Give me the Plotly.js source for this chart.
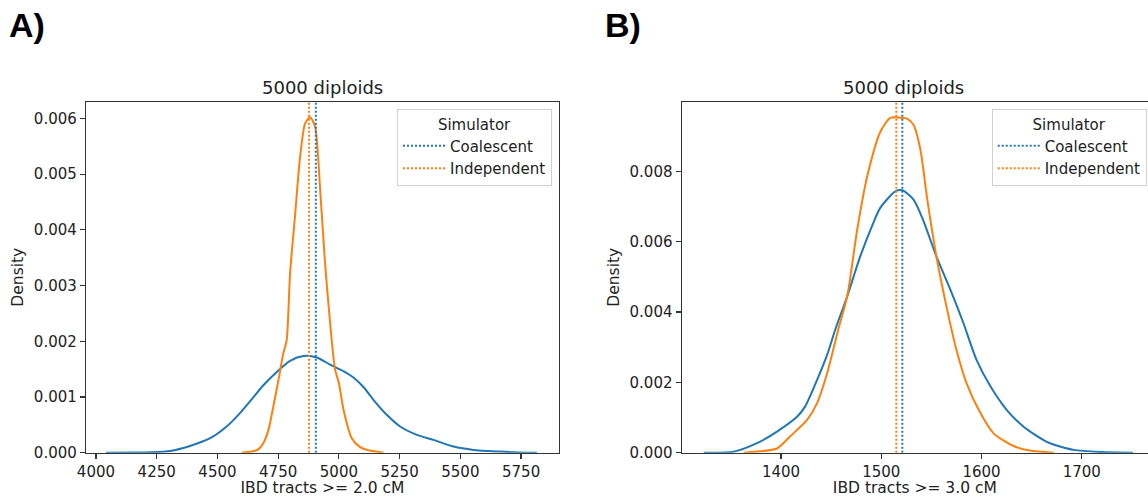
<!DOCTYPE html>
<html>
<head>
<meta charset="utf-8">
<script src="https://cdn.plot.ly/plotly-3.0.1.min.js"></script>
<style>html,body{margin:0;padding:0;background:#fff;}#chart{width:1148px;height:497px;}</style>
</head>
<body>
<div id="chart"></div>
<script>
// ---- Panel A: IBD tracts >= 2.0 cM ----
const aCoalX = [4041, 4150, 4222, 4305, 4387, 4470, 4538, 4593, 4634, 4689, 4744, 4799, 4854, 4909, 4964, 5020, 5060, 5101, 5142, 5197, 5252, 5321, 5389, 5472, 5554, 5664, 5740, 5815];
const aCoalY = [0, 0.000002, 0.000007, 0.00003, 0.00012, 0.00026, 0.00047, 0.00071, 0.00092, 0.00121, 0.00145, 0.00165, 0.001735, 0.00171, 0.00158, 0.00146, 0.00135, 0.00118, 0.00095, 0.00068, 0.00047, 0.00032, 0.00023, 0.00011, 0.00005, 0.00002, 0.000005, 0];
const aIndX = [4600, 4640, 4668, 4689, 4710, 4730, 4751, 4771, 4785, 4799, 4819, 4840, 4861, 4881, 4902, 4923, 4943, 4964, 4984, 5000, 5019, 5053, 5087, 5115, 5183];
const aIndY = [0, 0.00002, 0.00006, 0.00017, 0.00041, 0.00083, 0.0013, 0.00178, 0.00202, 0.00322, 0.00423, 0.0053, 0.00591, 0.00602, 0.00585, 0.00471, 0.0034, 0.00232, 0.0015, 0.00125, 0.00077, 0.00026, 0.0001, 0.00005, 0];
const aCoalMean = 4905;
const aIndMean = 4877;

// ---- Panel B: IBD tracts >= 3.0 cM ----
const bCoalX = [1323, 1353, 1376, 1396, 1416, 1424, 1436, 1446, 1454, 1466, 1479, 1492, 1499, 1514, 1521, 1532, 1541, 1555, 1569, 1582, 1595, 1609, 1625, 1642, 1665, 1692, 1720, 1751];
const bCoalY = [0, 0.00003, 0.00027, 0.0006, 0.00102, 0.00131, 0.00207, 0.00278, 0.00349, 0.00444, 0.00558, 0.00653, 0.00696, 0.00743, 0.00746, 0.0072, 0.00667, 0.00558, 0.00463, 0.00368, 0.00264, 0.00188, 0.00122, 0.00074, 0.00031, 0.00008, 0.00002, 0];
const bIndX = [1363, 1379, 1396, 1409, 1426, 1436, 1446, 1457, 1466, 1476, 1486, 1499, 1509, 1517, 1526, 1532, 1539, 1545, 1549, 1555, 1565, 1575, 1585, 1599, 1612, 1632, 1648, 1672];
const bIndY = [0, 0.00004, 0.00012, 0.00046, 0.00093, 0.00141, 0.00226, 0.00349, 0.00444, 0.00634, 0.00786, 0.00912, 0.00952, 0.00953, 0.00949, 0.00933, 0.00862, 0.00738, 0.00662, 0.00558, 0.00416, 0.00292, 0.00198, 0.00112, 0.00055, 0.00019, 0.00006, 0];
const bCoalMean = 1521;
const bIndMean = 1515;

const seriesNames = ['Coalescent', 'Independent'];
const panelTitles = ['5000 diploids', '5000 diploids'];
const panelLabels = ['A)', 'B)'];
const xTitles = ['IBD tracts >= 2.0 cM', 'IBD tracts >= 3.0 cM'];
const aXTicks = [4000, 4250, 4500, 4750, 5000, 5250, 5500, 5750];
const aYTicks = [0, 0.001, 0.002, 0.003, 0.004, 0.005, 0.006];
const bXTicks = [1400, 1500, 1600, 1700];
const bYTicks = [0, 0.002, 0.004, 0.006, 0.008];
const aYMax = 0.0063, bYMax = 0.00998;

const BLUE = '#1f77b4', ORANGE = '#ff7f0e';
const FONT = 'DejaVu Sans, sans-serif';
const W = 1148, H = 497;

function curve(x, y, color, xa, ya) {
  return {x: x, y: y, xaxis: xa, yaxis: ya, type: 'scatter', mode: 'lines',
    line: {color: color, width: 2, shape: 'spline', smoothing: 0.7}, showlegend: false, hoverinfo: 'skip'};
}
function vline(v, ymax, color, name, xa, ya, leg) {
  return {x: [v, v], y: [0, ymax], xaxis: xa, yaxis: ya, type: 'scatter', mode: 'lines', name: name,
    line: {color: color, width: 2, dash: '2px,2px'}, showlegend: true, legend: leg, hoverinfo: 'skip'};
}

const traces = [
  curve(aCoalX, aCoalY, BLUE, 'x', 'y'),
  curve(aIndX, aIndY, ORANGE, 'x', 'y'),
  vline(aCoalMean, aYMax, BLUE, seriesNames[0], 'x', 'y', 'legend'),
  vline(aIndMean, aYMax, ORANGE, seriesNames[1], 'x', 'y', 'legend'),
  curve(bCoalX, bCoalY, BLUE, 'x2', 'y2'),
  curve(bIndX, bIndY, ORANGE, 'x2', 'y2'),
  vline(bCoalMean, bYMax, BLUE, seriesNames[0], 'x2', 'y2', 'legend2'),
  vline(bIndMean, bYMax, ORANGE, seriesNames[1], 'x2', 'y2', 'legend2')
];

const yBottom = (H - 452.7) / H, yTop = (H - 101.7) / H;
function axisBase() {
  return {showgrid: false, zeroline: false, showline: true, mirror: true, linecolor: '#333', linewidth: 1.2,
    ticks: 'outside', ticklen: 5, tickwidth: 1.2, tickcolor: '#333',
    tickfont: {family: FONT, size: 15, color: '#222'}, automargin: false};
}
const xA = Object.assign(axisBase(), {domain: [86 / W, 559 / W], range: [3959, 5906], tickvals: aXTicks,
  title: {text: xTitles[0], font: {family: FONT, size: 15.5, color: '#222'}, standoff: 4}, anchor: 'y'});
const yA = Object.assign(axisBase(), {domain: [yBottom, yTop], range: [0, aYMax], tickvals: aYTicks, tickformat: '.3f',
  title: {text: 'Density', font: {family: FONT, size: 15.5, color: '#222'}, standoff: 6}, anchor: 'x'});
const xB = Object.assign(axisBase(), {domain: [681.7 / W, 1], range: [1301, 1766], tickvals: bXTicks,
  title: {text: xTitles[1], font: {family: FONT, size: 15.5, color: '#222'}, standoff: 4}, anchor: 'y2'});
const yB = Object.assign(axisBase(), {domain: [yBottom, yTop], range: [0, bYMax], tickvals: bYTicks, tickformat: '.3f',
  title: {text: 'Density', font: {family: FONT, size: 15.5, color: '#222'}, standoff: 6}, anchor: 'x2'});

function legendCfg(xRight) {
  return {x: xRight, xanchor: 'right', y: (H - 109) / H, yanchor: 'top', bgcolor: 'rgba(255,255,255,0.85)',
    bordercolor: '#d0d0d0', borderwidth: 1, font: {family: FONT, size: 15, color: '#222'},
    title: {text: 'Simulator', side: 'top center', font: {family: FONT, size: 15, color: '#222'}},
    itemwidth: 42, tracegroupgap: 0};
}

const layout = {
  width: W, height: H, margin: {l: 0, r: 0, t: 0, b: 0},
  paper_bgcolor: '#fff', plot_bgcolor: '#fff',
  xaxis: xA, yaxis: yA, xaxis2: xB, yaxis2: yB,
  legend: legendCfg(552 / W), legend2: legendCfg(1146.7 / W),
  showlegend: true, hovermode: false,
  annotations: [
    {text: panelTitles[0], xref: 'paper', yref: 'paper', x: 322.5 / W, y: yTop, xanchor: 'center', yanchor: 'bottom', yshift: 2,
      showarrow: false, font: {family: FONT, size: 18, color: '#222'}},
    {text: panelTitles[1], xref: 'paper', yref: 'paper', x: 903.5 / W, y: yTop, xanchor: 'center', yanchor: 'bottom', yshift: 2,
      showarrow: false, font: {family: FONT, size: 18, color: '#222'}},
    {text: '<b>' + panelLabels[0] + '</b>', xref: 'paper', yref: 'paper', x: 7 / W, y: 1 - 4 / H, xanchor: 'left', yanchor: 'top',
      showarrow: false, font: {family: 'Liberation Sans, Arial, sans-serif', size: 34, color: '#000'}},
    {text: '<b>' + panelLabels[1] + '</b>', xref: 'paper', yref: 'paper', x: 603 / W, y: 1 - 4 / H, xanchor: 'left', yanchor: 'top',
      showarrow: false, font: {family: 'Liberation Sans, Arial, sans-serif', size: 34, color: '#000'}}
  ]
};

Plotly.newPlot('chart', traces, layout, {displayModeBar: false, staticPlot: true});
</script>
</body>
</html>
